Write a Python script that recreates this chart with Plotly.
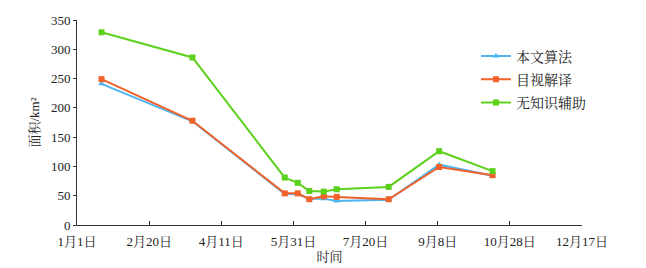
import plotly.graph_objects as go

dates = ["2019-01-18", "2019-03-22", "2019-05-25", "2019-06-03", "2019-06-11",
         "2019-06-21", "2019-06-30", "2019-08-05", "2019-09-09", "2019-10-16"]
alg = [241, 177, 53, 53, 45, 45, 41, 43, 103, 84]
visual = [249, 178, 54, 54, 44, 49, 48, 44, 99, 85]
noknow = [329, 286, 81, 72, 58, 57, 61, 65, 126, 92]

tick_vals = ["2019-01-01", "2019-02-20", "2019-04-11", "2019-05-31",
             "2019-07-20", "2019-09-08", "2019-10-28", "2019-12-17"]
tick_text = ["1月1日", "2月20日", "4月11日", "5月31日", "7月20日", "9月8日", "10月28日", "12月17日"]

series = [
    ("本文算法", alg, "#4db4ef", "triangle-up"),
    ("目视解译", visual, "#f2612a", "square"),
    ("无知识辅助", noknow, "#5cd11c", "square"),
]

fig = go.Figure()
for i, (name, vals, color, sym) in enumerate(series):
    fig.add_trace(go.Scatter(
        x=dates, y=vals, name=name, mode="lines+markers", legendgroup=f"g{i}",
        line=dict(color=color, width=2),
        marker=dict(color=color, symbol=sym, size=6),
    ))

font_main = "Liberation Serif, Noto Serif CJK SC, Noto Sans CJK SC, serif"

fig.update_layout(
    width=646, height=268,
    margin=dict(l=77, r=64, t=20, b=43),
    paper_bgcolor="white", plot_bgcolor="white",
    font=dict(family=font_main, size=13, color="#222"),
    showlegend=True,
    legend=dict(x=0.79, y=0.9, xanchor="left", yanchor="top",
                bgcolor="rgba(0,0,0,0)", font=dict(size=14),
                tracegroupgap=2, itemwidth=30),
    xaxis=dict(
        range=["2019-01-01", "2019-12-17"],
        tickvals=tick_vals, ticktext=tick_text,
        showgrid=False, zeroline=False, automargin=False,
        showline=True, linecolor="#333", linewidth=1,
        ticks="inside", ticklen=4, tickcolor="#333",
        ticklabelstandoff=4,
        title=dict(text="时间", standoff=4, font=dict(size=13)),
    ),
    yaxis=dict(
        range=[0, 350], dtick=50, automargin=False,
        showgrid=False, zeroline=False,
        showline=True, linecolor="#333", linewidth=1,
        ticks="outside", ticklen=3, tickcolor="#333",
        title=dict(text="面积/km²", standoff=8, font=dict(size=13)),
    ),
)

fig.write_html("out.html")
